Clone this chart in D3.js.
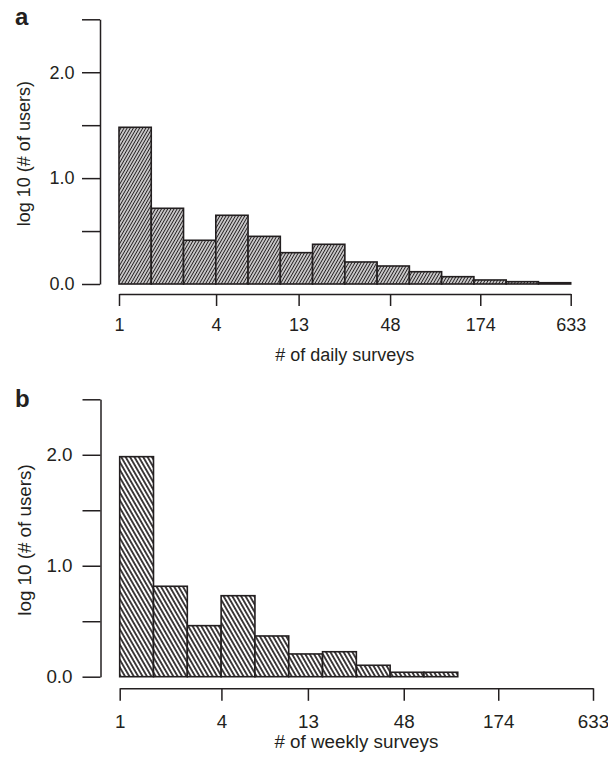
<!DOCTYPE html>
<html>
<head>
<meta charset="utf-8">
<script src="https://cdn.jsdelivr.net/npm/d3@7"></script>
<style>
  html, body { margin: 0; padding: 0; background: #fff; }
  svg { display: block; }
  text { font-family: "Liberation Sans", Arial, Helvetica, sans-serif; fill: #231f20; }
</style>
</head>
<body>
<svg id="chart" width="608" height="758"></svg>
<script>
// Bin boundaries (number of surveys), equal width on a log scale
const binEdges = [1, 1.585, 2.513, 3.984, 6.316, 10.01, 15.87, 25.16, 39.88, 63.23, 100.2, 158.9, 251.9, 399.3, 633];

// log10 of the number of users in each bin
const dailyLogUsers  = [1.48, 0.715, 0.413, 0.649, 0.450, 0.296, 0.375, 0.208, 0.170, 0.116, 0.069, 0.038, 0.022, 0.012];
const weeklyLogUsers = [1.983, 0.815, 0.460, 0.730, 0.367, 0.205, 0.225, 0.103, 0.040, 0.040];

const xTickValues = [1, 4, 13, 48, 174, 633];
const yTickValues = [0, 0.5, 1.0, 1.5, 2.0, 2.5];
const yLabelledTicks = [0, 1, 2];

const panelLetters = ["a", "b"];
const xTitles = ["# of daily surveys", "# of weekly surveys"];
const yTitle = "log 10 (# of users)";

const ink = "#231f20";
const svg = d3.select("#chart");
const defs = svg.append("defs");

// Hatch fills: "/" for the daily panel, "\" for the weekly panel
function hatch(id, spacing, width, angle) {
  const p = defs.append("pattern")
    .attr("id", id)
    .attr("patternUnits", "userSpaceOnUse")
    .attr("width", spacing)
    .attr("height", 20)
    .attr("patternTransform", `rotate(${angle})`);
  p.append("rect").attr("width", spacing).attr("height", 20).attr("fill", "#fff");
  p.append("line")
    .attr("x1", spacing / 2).attr("x2", spacing / 2)
    .attr("y1", 0).attr("y2", 20)
    .attr("stroke", ink).attr("stroke-width", width);
}
hatch("hatch-daily", 2.7, 1.35, 30);
hatch("hatch-weekly", 3.8, 1.7, -30);

const panels = [
  { values: dailyLogUsers, fill: "url(#hatch-daily)", font: 18,
    x0: 119, x1: 570.7, yTop: 19.3, yBase: 284, yAxisX: 100, xAxisY: 294,
    xTick: 12, xPad: 12, yTick: 18, yPad: 7.5,
    letterY: 25, yTitleX: 30, xTitleY: 361 },
  { values: weeklyLogUsers, fill: "url(#hatch-weekly)", font: 18.8,
    x0: 119.7, x1: 593, yTop: 399.3, yBase: 676.7, yAxisX: 100.5, xAxisY: 688.3,
    xTick: 12.5, xPad: 14, yTick: 18, yPad: 10,
    letterY: 406.7, yTitleX: 31, xTitleY: 748 }
];

panels.forEach((P, i) => {
  const g = svg.append("g");

  const x = d3.scaleLog().domain([1, 633]).range([P.x0, P.x1]);
  const y = d3.scaleLinear().domain([0, 2.5]).range([P.yBase, P.yTop]);

  // bars
  const bins = P.values.map((v, k) => ({ lo: binEdges[k], hi: binEdges[k + 1], v }));
  g.selectAll("rect.bar").data(bins).join("rect")
    .attr("class", "bar")
    .attr("x", d => x(d.lo))
    .attr("width", d => x(d.hi) - x(d.lo))
    .attr("y", d => y(d.v))
    .attr("height", d => y(0) - y(d.v))
    .attr("fill", P.fill)
    .attr("stroke", ink)
    .attr("stroke-width", 1.6);

  // y axis
  const yAxis = d3.axisLeft(y)
    .tickValues(yTickValues)
    .tickSize(P.yTick)
    .tickSizeOuter(0)
    .tickPadding(P.yPad)
    .tickFormat(d => yLabelledTicks.includes(d) ? d3.format(".1f")(d) : "");
  const ya = g.append("g").attr("transform", `translate(${P.yAxisX},0)`).call(yAxis);

  // x axis
  const xAxis = d3.axisBottom(x)
    .tickValues(xTickValues)
    .tickSize(P.xTick)
    .tickSizeOuter(0)
    .tickPadding(P.xPad)
    .tickFormat(d3.format("d"));
  const xa = g.append("g").attr("transform", `translate(0,${P.xAxisY})`).call(xAxis);

  [ya, xa].forEach(a => {
    a.select(".domain").attr("stroke", ink).attr("stroke-width", 1.5);
    a.selectAll(".tick line").attr("stroke", ink).attr("stroke-width", 1.5);
    a.selectAll(".tick text")
      .attr("fill", ink)
      .style("font-size", P.font + "px")
      .style("font-family", '"Liberation Sans", Arial, sans-serif');
  });

  // titles
  g.append("text")
    .attr("x", 15).attr("y", P.letterY)
    .style("font-size", "24px").style("font-weight", "bold")
    .text(panelLetters[i]);

  g.append("text")
    .attr("transform", `translate(${P.yTitleX},${(P.yTop + P.yBase) / 2 + 2}) rotate(-90)`)
    .attr("text-anchor", "middle")
    .style("font-size", P.font + "px")
    .text(yTitle);

  g.append("text")
    .attr("x", (P.x0 + P.x1) / 2).attr("y", P.xTitleY)
    .attr("text-anchor", "middle")
    .style("font-size", P.font + "px")
    .text(xTitles[i]);
});
</script>
</body>
</html>
